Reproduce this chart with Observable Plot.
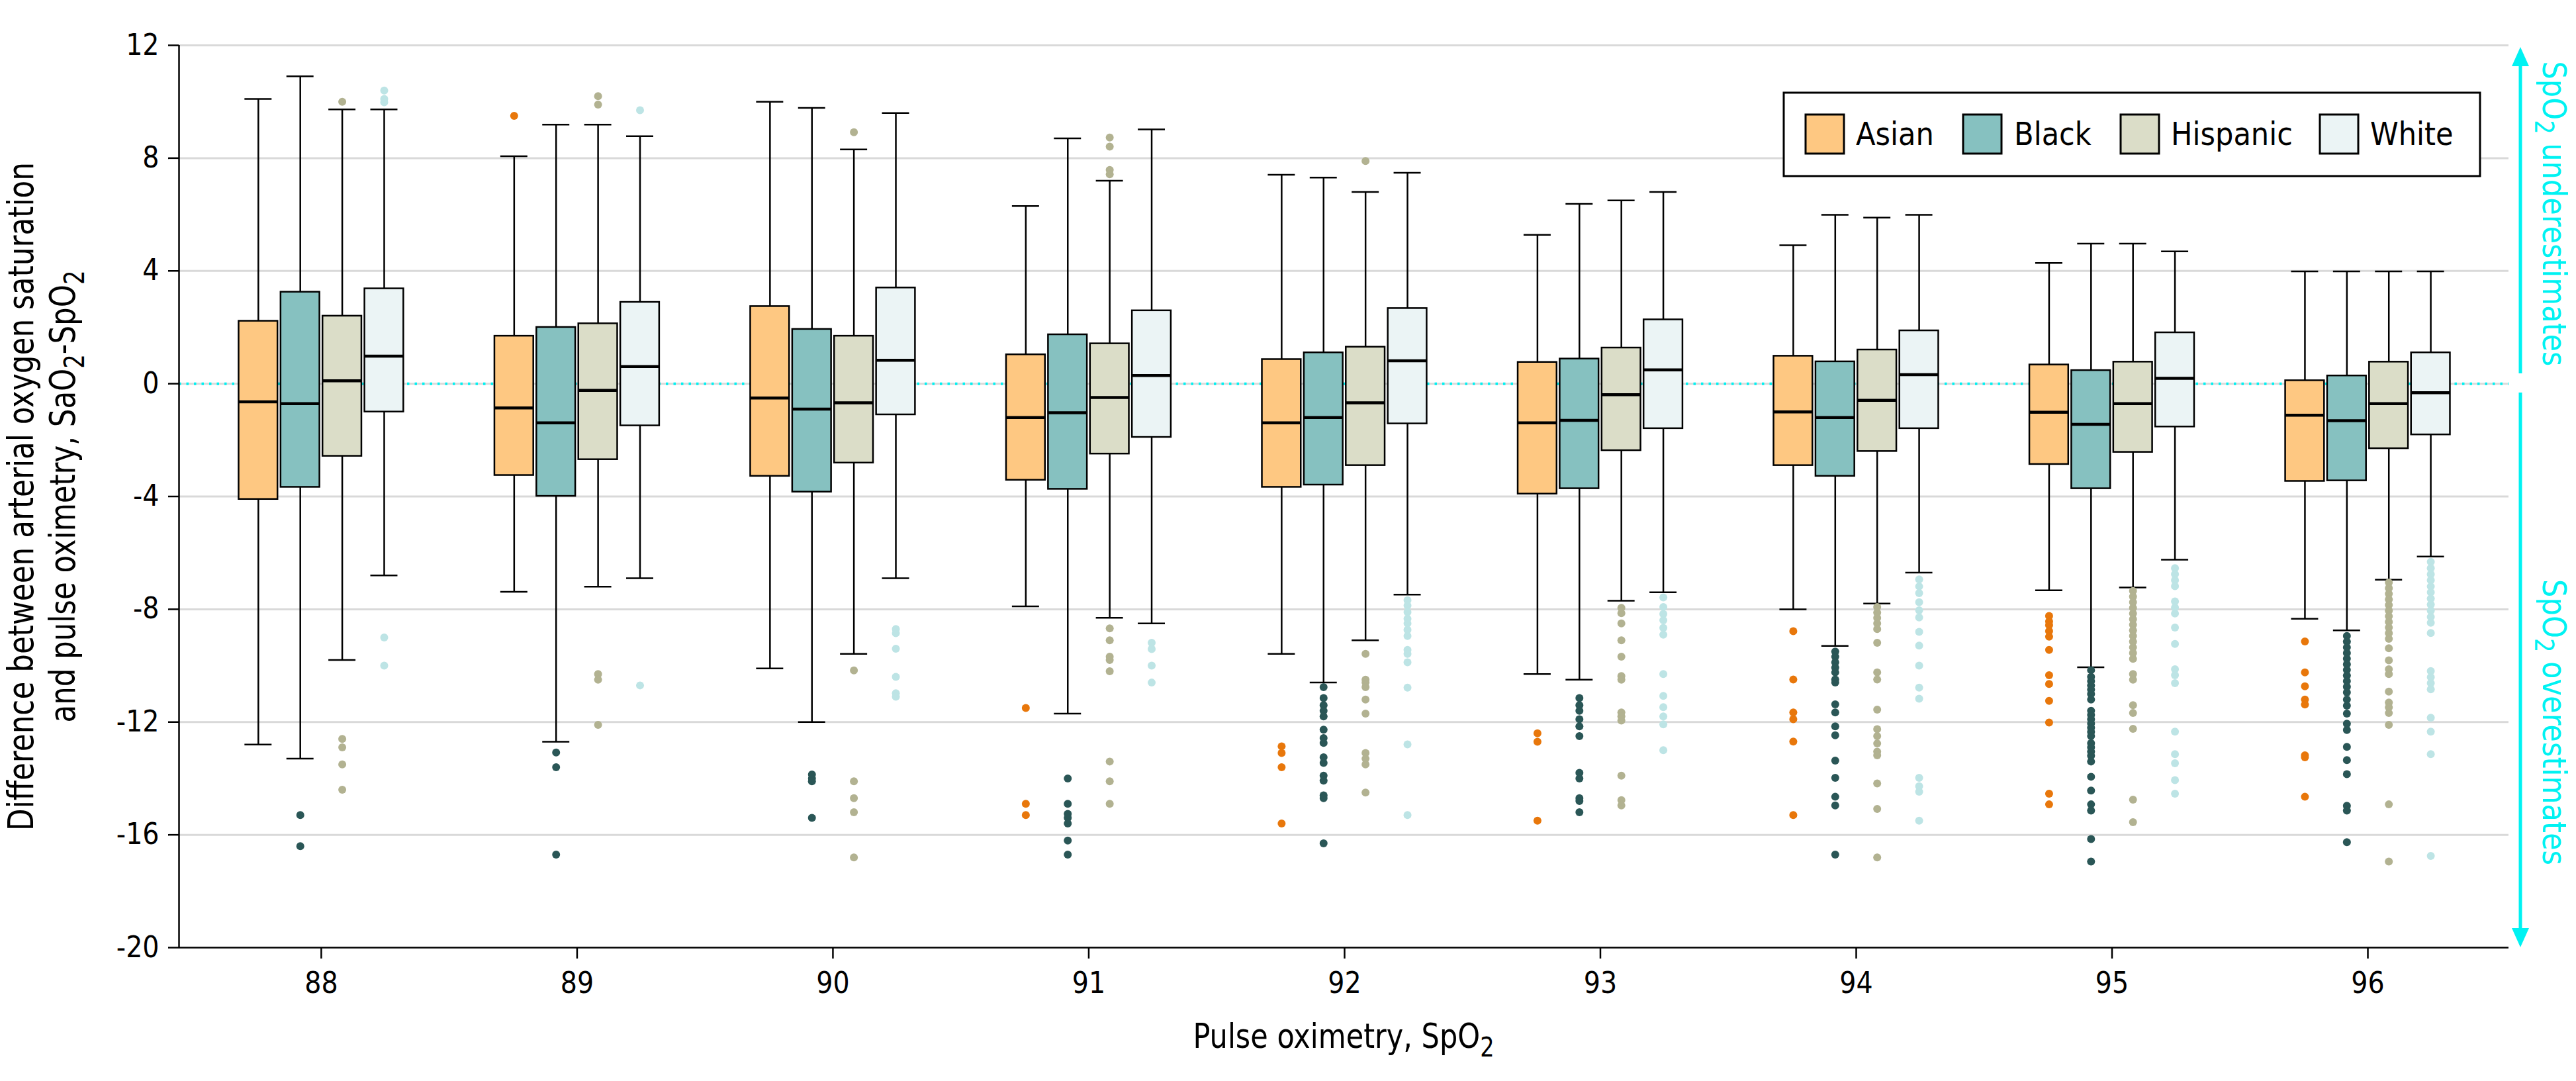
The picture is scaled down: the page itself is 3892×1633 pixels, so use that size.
<!DOCTYPE html>
<html>
<head>
<meta charset="utf-8">
<script src="https://cdn.jsdelivr.net/npm/d3@7"></script>
<script src="https://cdn.jsdelivr.net/npm/@observablehq/plot@0.6"></script>
<style>
  html, body { margin: 0; padding: 0; background: #fff; }
  #wrap { position: relative; width: 3892px; height: 1633px; background: #fff; }
  #overlay { position: absolute; left: 0; top: 0; pointer-events: none; }
  #chart svg { display: block; }
</style>
</head>
<body>
<div id="wrap">
  <div id="chart"></div>
  <svg id="overlay" width="3892" height="1633"></svg>
</div>
<script>
// ---------------- DATA ----------------
const spo2 = [88, 89, 90, 91, 92, 93, 94, 95, 96];
const races = ["Asian", "Black", "Hispanic", "White"];
const yTicks = [12, 8, 4, 0, -4, -8, -12, -16, -20];

// box statistics per SpO2 value: [lower whisker, Q1, median, Q3, upper whisker]
const asianBoxes = [
  [-12.8, -4.1, -0.64, 2.22, 10.1],
  [-7.38, -3.25, -0.86, 1.69, 8.07],
  [-10.1, -3.28, -0.51, 2.74, 10.0],
  [-7.9, -3.42, -1.2, 1.03, 6.3],
  [-9.58, -3.67, -1.39, 0.86, 7.41],
  [-10.3, -3.91, -1.39, 0.76, 5.28],
  [-8.0, -2.9, -1.0, 0.98, 4.91],
  [-7.33, -2.86, -1.01, 0.67, 4.28],
  [-8.34, -3.46, -1.12, 0.11, 3.98]
];
const blackBoxes = [
  [-13.3, -3.67, -0.71, 3.25, 10.9],
  [-12.7, -3.99, -1.39, 2.0, 9.19],
  [-12.0, -3.84, -0.9, 1.93, 9.78],
  [-11.7, -3.74, -1.03, 1.74, 8.7],
  [-10.6, -3.59, -1.2, 1.1, 7.31],
  [-10.5, -3.72, -1.3, 0.88, 6.38],
  [-9.3, -3.28, -1.2, 0.78, 5.99],
  [-10.06, -3.72, -1.44, 0.47, 4.97],
  [-8.75, -3.44, -1.31, 0.28, 3.98]
];
const hispanicBoxes = [
  [-9.8, -2.57, 0.1, 2.4, 9.73],
  [-7.2, -2.69, -0.24, 2.13, 9.19],
  [-9.58, -2.81, -0.68, 1.69, 8.31],
  [-8.3, -2.49, -0.49, 1.42, 7.2],
  [-9.1, -2.9, -0.68, 1.3, 6.8],
  [-7.7, -2.37, -0.39, 1.27, 6.5],
  [-7.8, -2.4, -0.59, 1.2, 5.89],
  [-7.23, -2.43, -0.71, 0.77, 4.97],
  [-6.95, -2.3, -0.71, 0.77, 3.98]
];
const whiteBoxes = [
  [-6.8, -1.0, 0.98, 3.37, 9.73],
  [-6.9, -1.49, 0.61, 2.89, 8.78],
  [-6.9, -1.1, 0.83, 3.4, 9.6],
  [-8.5, -1.9, 0.29, 2.59, 9.02],
  [-7.48, -1.42, 0.81, 2.67, 7.48],
  [-7.4, -1.59, 0.49, 2.27, 6.8],
  [-6.7, -1.59, 0.32, 1.88, 5.99],
  [-6.24, -1.53, 0.19, 1.81, 4.69],
  [-6.13, -1.81, -0.32, 1.1, 3.98]
];

// outliers per SpO2 value
const asianOutliers = {
  88: [], 89: [9.5], 90: [],
  91: [-11.5, -14.9, -15.3],
  92: [-12.86, -13.1, -13.6, -15.6],
  93: [-12.4, -12.7, -15.5],
  94: [-8.78, -10.49, -11.66, -11.9, -12.69, -15.3],
  95: [-8.24, -8.43, -8.56, -8.77, -8.97, -9.44, -10.34, -10.65, -11.25, -12.02, -14.54, -14.92],
  96: [-9.14, -10.24, -10.73, -11.2, -11.38, -13.18, -13.25, -14.65]
};
const blackOutliers = {
  88: [-15.3, -16.4],
  89: [-13.08, -13.6, -16.7],
  90: [-13.86, -14.0, -14.1, -15.4],
  91: [-14.0, -14.9, -15.26, -15.4, -15.6, -16.2, -16.7],
  92: [-10.76, -11.15, -11.4, -11.6, -11.8, -12.27, -12.57, -12.74, -13.25, -13.45, -13.9, -14.08, -14.6, -14.7, -16.3],
  93: [-11.15, -11.4, -11.6, -11.9, -12.15, -12.5, -13.8, -14.0, -14.7, -14.8, -15.2],
  94: [-9.5, -9.68, -9.88, -10.07, -10.24, -10.49, -10.6, -11.37, -11.66, -12.15, -12.47, -13.37, -13.98, -14.65, -14.96, -16.7],
  95: [-10.16, -10.4, -10.55, -10.7, -10.85, -11.0, -11.2, -11.6, -11.75, -11.9, -12.05, -12.2, -12.35, -12.5, -12.75, -12.9, -13.05, -13.2, -13.4, -13.94, -14.43, -14.92, -15.14, -16.15, -16.95],
  96: [-8.95, -9.15, -9.35, -9.55, -9.75, -9.95, -10.15, -10.35, -10.55, -10.75, -10.95, -11.2, -11.42, -11.7, -12.06, -12.28, -12.88, -13.35, -13.85, -14.97, -15.14, -16.26]
};
const hispanicOutliers = {
  88: [10.0, -12.6, -12.9, -13.5, -14.4],
  89: [10.2, 9.9, -10.3, -10.5, -12.1],
  90: [8.92, -10.17, -14.1, -14.7, -15.2, -16.8],
  91: [8.73, 8.41, 7.58, 7.43, -8.68, -9.1, -9.68, -9.8, -10.2, -13.4, -14.1, -14.9],
  92: [7.9, -9.58, -10.5, -10.6, -10.76, -11.2, -11.7, -13.1, -13.3, -13.5, -14.5],
  93: [-7.95, -8.14, -8.5, -9.1, -9.68, -10.37, -10.5, -11.66, -11.8, -11.95, -13.9, -14.77, -14.96],
  94: [-7.92, -8.12, -8.31, -8.5, -8.7, -9.19, -10.24, -10.49, -11.56, -12.25, -12.5, -12.76, -13.05, -13.18, -14.18, -15.08, -16.8],
  95: [-7.35, -7.55, -7.75, -7.95, -8.15, -8.35, -8.55, -8.75, -8.95, -9.15, -9.35, -9.55, -9.76, -10.3, -10.5, -11.4, -11.68, -12.24, -14.75, -15.55],
  96: [-7.05, -7.25, -7.45, -7.65, -7.85, -8.05, -8.25, -8.45, -8.65, -8.85, -9.05, -9.38, -9.81, -10.13, -10.3, -10.92, -11.31, -11.48, -11.68, -12.1, -14.92, -16.95]
};
const whiteOutliers = {
  88: [10.4, 10.1, 9.98, -9.0, -10.0],
  89: [9.7, -10.7],
  90: [-8.7, -8.85, -9.4, -10.4, -10.98, -11.1],
  91: [-9.19, -9.41, -10.0, -10.6],
  92: [-7.68, -7.87, -8.1, -8.34, -8.5, -8.73, -8.95, -9.44, -9.58, -9.88, -10.78, -12.79, -15.3],
  93: [-7.58, -7.92, -8.17, -8.39, -8.66, -8.9, -10.3, -11.07, -11.47, -11.8, -12.08, -13.0],
  94: [-6.94, -7.19, -7.43, -7.75, -8.04, -8.29, -8.8, -9.29, -10.0, -10.78, -11.17, -13.98, -14.28, -14.47, -15.5],
  95: [-6.54, -6.75, -6.97, -7.18, -7.72, -7.94, -8.15, -8.65, -9.23, -10.13, -10.34, -10.62, -12.34, -13.14, -13.46, -14.06, -14.54],
  96: [-6.32, -6.54, -6.76, -6.97, -7.19, -7.4, -7.62, -7.83, -8.05, -8.27, -8.48, -8.84, -10.19, -10.41, -10.62, -10.84, -11.85, -12.34, -13.14, -16.75]
};

// ---------------- STYLE ----------------
const FONT = "'Liberation Sans Narrow', 'DejaVu Sans Condensed', 'Roboto Condensed', 'Liberation Sans', sans-serif";
const boxFill = {Asian: "#FEC882", Black: "#86C1C0", Hispanic: "#DBDDC8", White: "#EBF4F5"};
const dotFill = {Asian: "#E8770B", Black: "#2A5656", Hispanic: "#B2B291", White: "#BDE4E5"};
const CYAN = "#00F2F2";
const offsets = {Asian: -0.246, Black: -0.082, Hispanic: 0.082, White: 0.246};
const boxHalf = 0.076;
const capHalf = 0.053;
const xDomain = [87.444, 96.551];

const allBoxes = {Asian: asianBoxes, Black: blackBoxes, Hispanic: hispanicBoxes, White: whiteBoxes};
const allOut = {Asian: asianOutliers, Black: blackOutliers, Hispanic: hispanicOutliers, White: whiteOutliers};

const boxMarks = [];
const dotMarks = [];
for (const race of races) {
  const rows = allBoxes[race].map((s, i) => ({spo2: spo2[i], lo: s[0], q1: s[1], med: s[2], q3: s[3], hi: s[4]}));
  const off = offsets[race];
  const cx = d => d.spo2 + off;
  boxMarks.push(
    Plot.ruleX(rows, {x: cx, y1: "lo", y2: "hi", stroke: "black", strokeWidth: 2.5}),
    Plot.ruleY(rows, {y: "lo", x1: d => cx(d) - capHalf, x2: d => cx(d) + capHalf, stroke: "black", strokeWidth: 2.5}),
    Plot.ruleY(rows, {y: "hi", x1: d => cx(d) - capHalf, x2: d => cx(d) + capHalf, stroke: "black", strokeWidth: 2.5}),
    Plot.rect(rows, {x1: d => cx(d) - boxHalf, x2: d => cx(d) + boxHalf, y1: "q1", y2: "q3", fill: boxFill[race], stroke: "black", strokeWidth: 2.5}),
    Plot.ruleY(rows, {y: "med", x1: d => cx(d) - boxHalf, x2: d => cx(d) + boxHalf, stroke: "black", strokeWidth: 4.5})
  );
  const pts = [];
  for (const k of spo2) for (const v of allOut[race][k]) pts.push({spo2: k, v});
  dotMarks.push(Plot.dot(pts, {x: d => d.spo2 + off, y: "v", r: 6, fill: dotFill[race], stroke: null}));
}

const chart = Plot.plot({
  width: 3892,
  height: 1633,
  marginLeft: 270,
  marginRight: 102,
  marginTop: 68,
  marginBottom: 202,
  style: {fontFamily: FONT, fontSize: "44px", color: "black", background: "white", overflow: "visible"},
  x: {domain: xDomain},
  y: {domain: [-20, 12]},
  marks: [
    Plot.gridY(yTicks.filter(t => t > -20), {stroke: "#D9D9D9", strokeOpacity: 1, strokeWidth: 3}),
    Plot.ruleY([0], {stroke: CYAN, strokeWidth: 4, strokeDasharray: "3.5,8"}),
    ...boxMarks,
    ...dotMarks,
    Plot.ruleY([-20], {stroke: "black", strokeWidth: 2.5}),
    Plot.ruleX([xDomain[0]], {stroke: "black", strokeWidth: 2.5}),
    Plot.axisY({ticks: yTicks, tickSize: 16, tickPadding: 14, fontSize: 44, label: null, strokeWidth: 2.5,
      tickFormat: d => d < 0 ? "-" + (-d) : String(d)}),
    Plot.axisX({ticks: spo2, tickSize: 17, tickPadding: 20, fontSize: 44, label: null, strokeWidth: 2.5,
      tickFormat: d => String(d)})
  ]
});
document.getElementById("chart").appendChild(chart);

// ---------------- TITLES, LEGEND, ANNOTATIONS ----------------
const ov = d3.select("#overlay").style("font-family", FONT);

function subText(g, parts, size) {
  // parts: array of [text, isSub]; subscripts shift down, following text shifts back up
  const shift = size * 0.25;
  let pending = 0;
  for (const [t, sub] of parts) {
    const ts = g.append("tspan").text(t);
    if (sub) {
      ts.attr("dy", shift).attr("font-size", size * 0.78);
      pending = -shift;
    } else if (pending) {
      ts.attr("dy", pending);
      pending = 0;
    }
  }
}

// Y title (two lines)
ov.append("text").attr("transform", "translate(50,750) rotate(-90)")
  .attr("text-anchor", "middle").attr("font-size", 54).attr("fill", "black")
  .attr("textLength", 1010).attr("lengthAdjust", "spacingAndGlyphs")
  .text("Difference between arterial oxygen saturation");
const yt2 = ov.append("text").attr("transform", "translate(113,750) rotate(-90)")
  .attr("text-anchor", "middle").attr("font-size", 54).attr("fill", "black")
  .attr("textLength", 683).attr("lengthAdjust", "spacingAndGlyphs");
subText(yt2, [["and pulse oximetry, SaO", false], ["2", true], ["-SpO", false], ["2", true]], 54);

// X title
const xt = ov.append("text").attr("x", 2030).attr("y", 1583)
  .attr("text-anchor", "middle").attr("font-size", 52).attr("fill", "black")
  .attr("textLength", 455).attr("lengthAdjust", "spacingAndGlyphs");
subText(xt, [["Pulse oximetry, SpO", false], ["2", true]], 52);

// Legend
ov.append("rect").attr("x", 2695).attr("y", 140).attr("width", 1052).attr("height", 126)
  .attr("fill", "white").attr("stroke", "black").attr("stroke-width", 3);
const legX = {Asian: [2728, 2804], Black: [2966, 3043], Hispanic: [3204, 3280], White: [3505, 3581]};
for (const race of races) {
  ov.append("rect").attr("x", legX[race][0]).attr("y", 173).attr("width", 58).attr("height", 59)
    .attr("fill", boxFill[race]).attr("stroke", "black").attr("stroke-width", 3);
  ov.append("text").attr("x", legX[race][1]).attr("y", 219).attr("font-size", 48).attr("fill", "black").text(race);
}

// Right arrows
const ax = 3808;
ov.append("line").attr("x1", ax).attr("x2", ax).attr("y1", 564).attr("y2", 92)
  .attr("stroke", CYAN).attr("stroke-width", 5);
ov.append("path").attr("d", `M${ax},71 L${ax - 13},100 L${ax + 13},100 Z`).attr("fill", CYAN);
ov.append("line").attr("x1", ax).attr("x2", ax).attr("y1", 593).attr("y2", 1410)
  .attr("stroke", CYAN).attr("stroke-width", 5);
ov.append("path").attr("d", `M${ax},1431 L${ax - 13},1402 L${ax + 13},1402 Z`).attr("fill", CYAN);

const r1 = ov.append("text").attr("transform", "translate(3842,323) rotate(90)")
  .attr("text-anchor", "middle").attr("font-size", 50).attr("fill", CYAN)
  .attr("textLength", 461).attr("lengthAdjust", "spacingAndGlyphs");
subText(r1, [["SpO", false], ["2", true], [" underestimates", false]], 50);
const r2 = ov.append("text").attr("transform", "translate(3842,1091) rotate(90)")
  .attr("text-anchor", "middle").attr("font-size", 50).attr("fill", CYAN)
  .attr("textLength", 432).attr("lengthAdjust", "spacingAndGlyphs");
subText(r2, [["SpO", false], ["2", true], [" overestimates", false]], 50);
</script>
</body>
</html>
